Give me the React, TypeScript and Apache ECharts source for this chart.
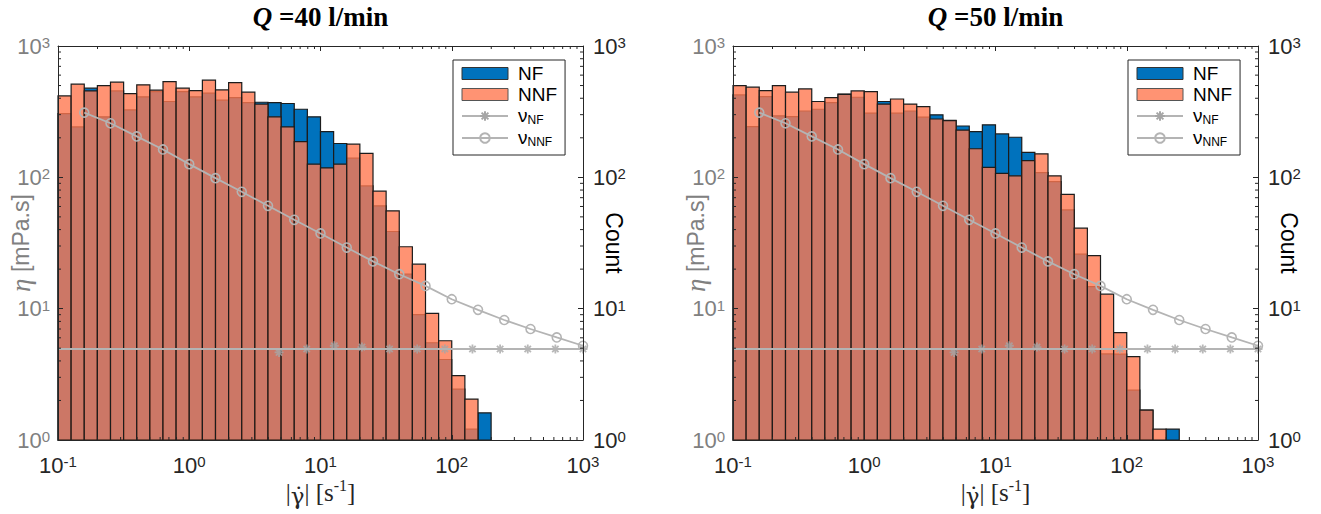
import { useEffect, useRef } from 'react';
import * as echarts from 'echarts';

// log-spaced histogram bin edges (0.1 decade wide)
const binEdges = [0.1, 0.1259, 0.1585, 0.1995, 0.2512, 0.3162, 0.3981, 0.5012, 0.631, 0.7943,
  1, 1.259, 1.585, 1.995, 2.512, 3.162, 3.981, 5.012, 6.31, 7.943,
  10, 12.59, 15.85, 19.95, 25.12, 31.62, 39.81, 50.12, 63.1, 79.43,
  100, 125.9, 158.5, 199.5, 251.2];

// Q = 40 l/min counts per bin
const nf40 = [306, 242, 477, 289, 455, 326, 410, 450, 378, 450, 410, 437, 387, 405, 371, 373, 371, 365, 330, 289,
  223, 181, 140, 86, 60.7, 38.7, 18.3, 9.0, 5.5, 4.1, 2.44, 1.21, 1.61, 0];
const nnf40 = [417, 512, 455, 500, 530, 434, 506, 461, 536, 477, 458, 549, 463, 527, 445, 361, 289, 242, 187, 126,
  118, 126, 179, 152, 78.5, 55.6, 29.6, 21.8, 9.2, 5.7, 3.09, 2.05, 0, 0];

// Q = 50 l/min counts per bin
const nf50 = [424, 243, 412, 294, 290, 320, 330, 371, 430, 407, 308, 378, 308, 320, 287, 299, 272, 246, 223, 251,
  214, 202, 155, 108.6, 92.7, 56.5, 26, 14.7, 4.52, 4.5, 2.4, 1.69, 0, 1.21];
const nnf50 = [499, 486, 458, 499, 445, 471, 378, 405, 428, 455, 449, 361, 395, 361, 346, 278, 270, 229, 165, 119,
  107, 102.6, 134, 151, 102.6, 74.3, 41, 25.3, 12.9, 6.56, 4.31, 1.69, 1.21, 0];

// viscosity curves
const nuX = [0.1585, 0.2512, 0.3981, 0.631, 1, 1.585, 2.512, 3.981, 6.31, 10,
  15.85, 25.12, 39.81, 63.1, 100, 158.5, 251.2, 398.1, 631, 1000];
const nuNNF = [311, 258, 205, 163, 126, 98.6, 77.6, 60.7, 47.5, 37.4,
  29.2, 22.9, 18.3, 14.9, 11.8, 9.8, 8.2, 7.0, 6.04, 5.22];
const nuNFLineX = [0.1, 1000];
const nuNFLine = [4.93, 4.93];
const nuNFMarkX = [4.833, 7.848, 12.74, 20.69, 33.6, 54.56, 88.59, 143.8, 233.6, 379.3, 615.8, 1000];
const nuNFMark = [4.64, 4.93, 5.22, 5.1, 4.93, 4.93, 4.93, 4.93, 4.93, 4.93, 4.93, 4.93];

// axis tick values
const xMinorTicks = [0.2, 0.3, 0.4, 0.5, 0.6, 0.7, 0.8, 0.9, 2, 3, 4, 5, 6, 7, 8, 9,
  20, 30, 40, 50, 60, 70, 80, 90, 200, 300, 400, 500, 600, 700, 800, 900];
const yMinorTicks = [2, 3, 4, 5, 6, 7, 8, 9, 20, 30, 40, 50, 60, 70, 80, 90, 200, 300, 400, 500, 600, 700, 800, 900];

const titles = ['=40 l/min', '=50 l/min'];

const NF_COLOR = '#0072BD';
const NNF_COLOR = 'rgba(255,120,80,0.8)';
const EDGE = '#1c1c1c';
const AX = '#262626';
const GRAY_LINE = '#B4B4B4';
const MARK_GRAY = '#A6A6A6';
const LABEL_GRAY = '#808080';
const SANS = '"Liberation Sans", Arial, Helvetica, sans-serif';
const SERIF = '"Liberation Serif", "Times New Roman", serif';

const ASTERISK = 'path://M5,0L5,10M0,5L10,5M1.46,1.46L8.54,8.54M1.46,8.54L8.54,1.46';

const panels = [
  { left: 58, nf: nf40, nnf: nnf40, title: titles[0] },
  { left: 733, nf: nf50, nnf: nnf50, title: titles[1] },
];
const GRID_TOP = 46;
const GRID_W = 525;
const GRID_H = 394;

function expLabel(v: number) {
  const e = Math.round(Math.log10(v));
  return '{b|10}{s|' + e + '}';
}

function labelRich(color: string) {
  return {
    b: { fontSize: 22, fontFamily: SANS, color, lineHeight: 22, verticalAlign: 'bottom' },
    s: { fontSize: 15, fontFamily: SANS, color, lineHeight: 12, verticalAlign: 'top' },
  };
}

function barRender(fill: string) {
  return (params: any, api: any) => {
    const tl = api.coord([api.value(0), api.value(2)]);
    const br = api.coord([api.value(1), 1]);
    return {
      type: 'rect',
      shape: { x: tl[0], y: tl[1], width: br[0] - tl[0], height: br[1] - tl[1] },
      style: { fill, stroke: EDGE, lineWidth: 1.2 },
    };
  };
}

function tickRender(params: any, api: any) {
  const flag = api.value(2);
  const st = { stroke: AX, lineWidth: 1 };
  if (flag === 0) {
    const v = api.value(0);
    const b = api.coord([v, 1]);
    const t = api.coord([v, 1000]);
    return {
      type: 'group',
      children: [
        { type: 'line', shape: { x1: b[0], y1: b[1], x2: b[0], y2: b[1] - 3 }, style: st },
        { type: 'line', shape: { x1: t[0], y1: t[1], x2: t[0], y2: t[1] + 3 }, style: st },
      ],
    };
  }
  const v = api.value(1);
  const l = api.coord([0.1, v]);
  const r = api.coord([1000, v]);
  return {
    type: 'group',
    children: [
      { type: 'line', shape: { x1: l[0], y1: l[1], x2: l[0] + 3, y2: l[1] }, style: st },
      { type: 'line', shape: { x1: r[0], y1: r[1], x2: r[0] - 3, y2: r[1] }, style: st },
    ],
  };
}

function buildOption() {
  const grid: any[] = [];
  const xAxis: any[] = [];
  const yAxis: any[] = [];
  const series: any[] = [];
  const legend: any[] = [];
  const graphic: any[] = [];

  panels.forEach((p, i) => {
    grid.push({ left: p.left, top: GRID_TOP, width: GRID_W, height: GRID_H, containLabel: false, outerBoundsMode: 'none', show: false });
    const common = {
      type: 'log', logBase: 10, min: 0.1, max: 1000, gridIndex: i, z: 5,
      nameMoveOverlap: false,
      splitLine: { show: false },
      axisLine: { show: true, lineStyle: { color: AX, width: 1 } },
      axisTick: { show: true, inside: true, length: 5, lineStyle: { color: AX, width: 1 } },
    };
    xAxis.push({
      ...common, position: 'bottom',
      axisLabel: { formatter: expLabel, margin: 14, rich: labelRich(AX) },
      name: '|{g|γ̇}| [s{sup|-1}]', nameLocation: 'middle', nameGap: 37,
      nameTextStyle: {
        fontFamily: SERIF, fontSize: 25, color: AX, lineHeight: 30, verticalAlign: 'top',
        rich: {
          g: { fontFamily: '"DejaVu Serif", serif', fontSize: 23, color: AX, lineHeight: 30, verticalAlign: 'bottom' },
          sup: { fontFamily: SERIF, fontSize: 16, color: AX, lineHeight: 16, verticalAlign: 'top' },
        },
      },
    });
    xAxis.push({ ...common, position: 'top', axisLabel: { show: false } });
    const ycommon = { ...common, min: 1, max: 1000 };
    yAxis.push({
      ...ycommon, position: 'left',
      axisLabel: { formatter: expLabel, margin: 8, rich: labelRich(LABEL_GRAY) },
      name: '{e|η} [mPa.s]', nameLocation: 'middle', nameGap: 24, nameRotate: 90,
      nameTextStyle: {
        fontFamily: SANS, fontSize: 23, color: LABEL_GRAY,
        rich: { e: { fontFamily: SERIF, fontStyle: 'italic', fontSize: 27, color: LABEL_GRAY } },
      },
    });
    yAxis.push({
      ...ycommon, position: 'right',
      axisLabel: { formatter: expLabel, margin: 10, rich: labelRich(AX) },
      name: 'Count', nameLocation: 'middle', nameGap: 19, nameRotate: -90,
      nameTextStyle: { fontFamily: SANS, fontSize: 23, color: '#000' },
    });

    const xi = i * 2;
    const yi = i * 2;
    const nfData = p.nf.map((v, k) => [binEdges[k], binEdges[k + 1], v]).filter((d) => d[2] > 0);
    const nnfData = p.nnf.map((v, k) => [binEdges[k], binEdges[k + 1], v]).filter((d) => d[2] > 0);
    series.push({
      name: 'NF', type: 'custom', xAxisIndex: xi, yAxisIndex: yi, silent: true, clip: false,
      encode: { x: [0, 1], y: 2 }, data: nfData, renderItem: barRender(NF_COLOR),
      itemStyle: { color: NF_COLOR, borderColor: EDGE, borderWidth: 1 },
    });
    series.push({
      name: 'NNF', type: 'custom', xAxisIndex: xi, yAxisIndex: yi, silent: true, clip: false,
      encode: { x: [0, 1], y: 2 }, data: nnfData, renderItem: barRender(NNF_COLOR),
      itemStyle: { color: NNF_COLOR, borderColor: EDGE, borderWidth: 1 },
    });
    series.push({
      name: 'νNF', type: 'line', xAxisIndex: xi, yAxisIndex: yi, silent: true,
      data: nuNFLineX.map((x, k) => [x, nuNFLine[k]]), showSymbol: false,
      symbol: ASTERISK, symbolSize: 9,
      lineStyle: { color: GRAY_LINE, width: 1.8 },
      itemStyle: { color: 'rgba(0,0,0,0)', borderColor: MARK_GRAY, borderWidth: 1.8 },
    });
    series.push({
      name: 'νNF-markers', type: 'scatter', xAxisIndex: xi, yAxisIndex: yi, silent: true,
      data: nuNFMarkX.map((x, k) => [x, nuNFMark[k]]),
      symbol: ASTERISK, symbolSize: 9,
      itemStyle: { color: 'rgba(0,0,0,0)', borderColor: MARK_GRAY, borderWidth: 1.8 },
    });
    series.push({
      name: 'νNNF', type: 'line', xAxisIndex: xi, yAxisIndex: yi, silent: true,
      data: nuX.map((x, k) => [x, nuNNF[k]]),
      symbol: 'circle', symbolSize: 9, showSymbol: true,
      lineStyle: { color: GRAY_LINE, width: 1.8 },
      itemStyle: { color: 'rgba(0,0,0,0)', borderColor: GRAY_LINE, borderWidth: 1.6 },
    });
    const tickData = [
      ...xMinorTicks.map((v) => [v, 1, 0]),
      ...yMinorTicks.map((v) => [0.1, v, 1]),
    ];
    series.push({
      name: 'ticks', type: 'custom', xAxisIndex: xi, yAxisIndex: yi, silent: true, clip: false, z: 6,
      encode: { x: 0, y: 1 }, data: tickData, renderItem: tickRender,
    });

    legend.push({
      orient: 'vertical', left: p.left + 395, top: 60,
      padding: [4, 8, 7, 8], itemGap: 2, itemWidth: 46, itemHeight: 12,
      backgroundColor: '#fff', borderColor: AX, borderWidth: 1, borderRadius: 0,
      selectedMode: false,
      data: [
        { name: 'NF', icon: 'rect', itemStyle: { color: NF_COLOR, borderColor: '#333', borderWidth: 1 } },
        { name: 'NNF', icon: 'rect', itemStyle: { color: NNF_COLOR, borderColor: '#555', borderWidth: 1 } },
        { name: 'νNF' },
        { name: 'νNNF' },
      ],
      formatter: (name: string) => {
        if (name === 'νNF') return '{v|ν}{s|NF}';
        if (name === 'νNNF') return '{v|ν}{s|NNF}';
        return '{t|' + name + '}';
      },
      textStyle: {
        fontFamily: SANS, fontSize: 19, color: '#000', padding: [0, 0, 0, 5],
        rich: {
          t: { fontFamily: SANS, fontSize: 19, color: '#000', lineHeight: 20 },
          v: { fontFamily: SANS, fontSize: 19, color: '#000', lineHeight: 20, verticalAlign: 'top' },
          s: { fontFamily: SANS, fontSize: 12, color: '#000', lineHeight: 12, verticalAlign: 'bottom' },
        },
      },
    });

    graphic.push({
      type: 'text', x: p.left + GRID_W / 2, y: 17, z: 10,
      style: {
        text: '{q|Q} {t|' + p.title + '}',
        align: 'center', verticalAlign: 'middle', textAlign: 'center', textVerticalAlign: 'middle',
        fontFamily: SERIF, fontSize: 27, fontWeight: 'bold', fill: '#000',
        rich: {
          q: { fontFamily: SERIF, fontSize: 27, fontWeight: 'bold', fontStyle: 'italic', fill: '#000', color: '#000' },
          t: { fontFamily: SERIF, fontSize: 27, fontWeight: 'bold', fill: '#000', color: '#000' },
        },
      },
    });
  });

  return {
    animation: false,
    backgroundColor: '#fff',
    grid, xAxis, yAxis, series, legend, graphic,
  };
}

export default function App() {
  const ref = useRef<HTMLDivElement>(null);
  useEffect(() => {
    if (!ref.current) return;
    const chart = echarts.init(ref.current, undefined, { renderer: 'svg' });
    chart.setOption(buildOption() as any);
    return () => chart.dispose();
  }, []);
  return (
    <div
      ref={ref}
      style={{ position: 'absolute', left: 0, top: 0, width: 1321, height: 514, background: '#fff' }}
    />
  );
}
